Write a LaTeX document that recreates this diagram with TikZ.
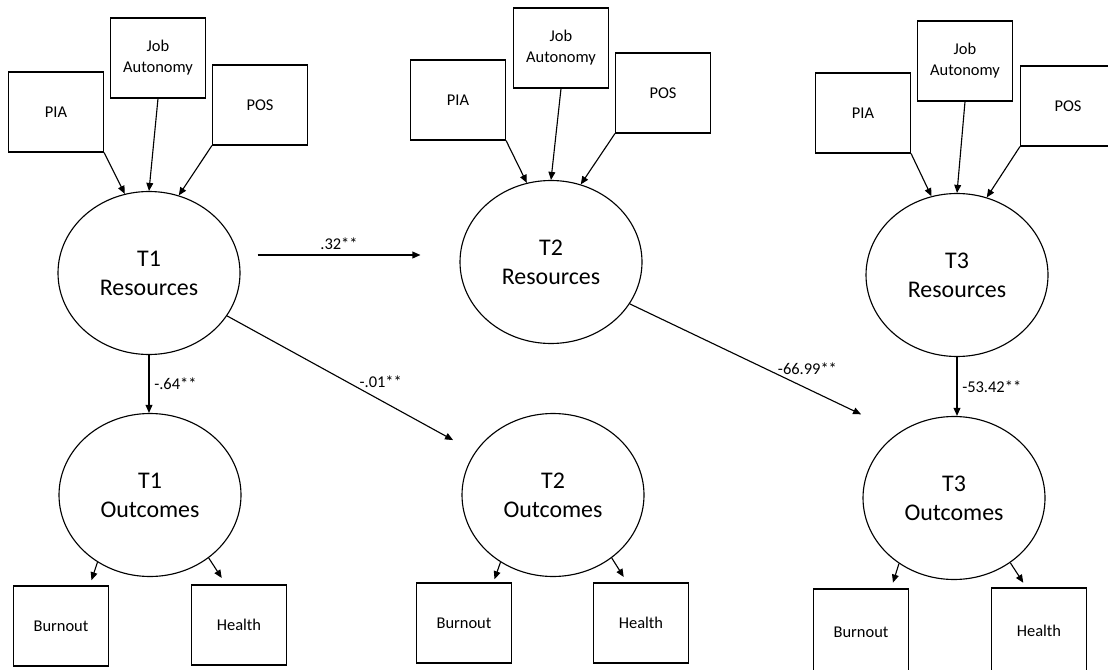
\documentclass[tikz,border=0pt]{standalone}
\usepackage{fontspec}
\setmainfont{Carlito}
\usetikzlibrary{shapes.geometric,arrows.meta}
\newcommand{\pxu}{0.025cm}
\tikzset{
	measure/.style={draw, line width=0.8pt, fill=white, minimum width=95*\pxu, minimum height=80*\pxu, align=center, font=\fontsize{11.7}{15}\selectfont},
	latent/.style={draw, ellipse, line width=0.8pt, inner sep=0pt, minimum width=182*\pxu, minimum height=163*\pxu, align=center, font=\fontsize{17}{20.6}\selectfont},
	path arrow/.style={-{Triangle[length=2mm,width=1.7mm]}, line width=0.8pt},
	weight/.style={font=\fontsize{11.7}{14}\selectfont}
}

\begin{document}
\begin{tikzpicture}[x=\pxu, y=-\pxu]
	\useasboundingbox (0,0) rectangle (1108,669);
	% T1
	\node (pia1) [measure] at (56,112) {PIA};
	\node (ja1) [measure] at (158,58) {Job\\Autonomy};
	\node (pos1) [measure] at (260,105) {POS};
	\node (r1) [latent] at (149,273) {T1\\Resources};
	\node (o1) [latent] at (150,495) {T1\\Outcomes};
	\node (bo1) [measure] at (61,626) {Burnout};
	\node (he1) [measure] at (239,625) {Health};
	% T2
	\node (pia2) [measure] at (458,100) {PIA};
	\node (ja2) [measure] at (561,48) {Job\\Autonomy};
	\node (pos2) [measure] at (663,93) {POS};
	\node (r2) [latent] at (551,262) {T2\\Resources};
	\node (o2) [latent] at (553,495) {T2\\Outcomes};
	\node (bo2) [measure] at (464,623) {Burnout};
	\node (he2) [measure] at (641,623) {Health};
	% T3
	\node (pia3) [measure] at (863,113) {PIA};
	\node (ja3) [measure] at (965,61) {Job\\Autonomy};
	\node (pos3) [measure] at (1068,106) {POS};
	\node (r3) [latent] at (957,275) {T3\\Resources};
	\node (o3) [latent] at (954,498) {T3\\Outcomes};
	\node (bo3) [measure, minimum height=86*\pxu] at (861,632) {Burnout};
	\node (he3) [measure, minimum height=86*\pxu] at (1039,631) {Health};

	% indicators -> resources
	\draw[path arrow] (pia1.south east) -- (r1.107);
	\draw[path arrow] (ja1.south) -- (r1.north);
	\draw[path arrow] (pos1.south west) -- (r1.69);
	\draw[path arrow] (pia2.south east) -- (r2.107);
	\draw[path arrow] (ja2.south) -- (r2.north);
	\draw[path arrow] (pos2.south west) -- (r2.69);
	\draw[path arrow] (pia3.south east) -- (r3.108);
	\draw[path arrow] (ja3.south) -- (r3.north);
	\draw[path arrow] (pos3.south west) -- (r3.69);

	% outcomes -> indicators
	\draw[path arrow] (o1.232) -- ++(-6,18);
	\draw[path arrow] (o1.313) -- ++(13,20);
	\draw[path arrow] (o2.232) -- ++(-6,17);
	\draw[path arrow] (o2.313) -- ++(12,19);
	\draw[path arrow] (o3.230) -- ++(-6,19);
	\draw[path arrow] (o3.311) -- ++(13,20);

	% structural paths
	\draw[path arrow] ([shift={(17,-18)}]r1.east) -- ([shift={(-39,-7)}]r2.west) node [midway,above,weight] {.32**};
	\draw[path arrow] (r1.south) -- (r1.south |- o1.north) node [midway,right,weight] {-.64**};
	\draw[path arrow, shorten >=25*\pxu] (r1) -- (o2) node [pos=0.62,yshift=13pt,weight] {-.01**};
	\draw[path arrow, shorten >=42*\pxu] (r2.-28) -- (o3.130) node [pos=0.66,yshift=14pt,weight] {-66.99**};
	\draw[path arrow] (r3.south) -- (r3.south |- o3.north) node [midway,right,weight] {-53.42**};
\end{tikzpicture}
\end{document}
